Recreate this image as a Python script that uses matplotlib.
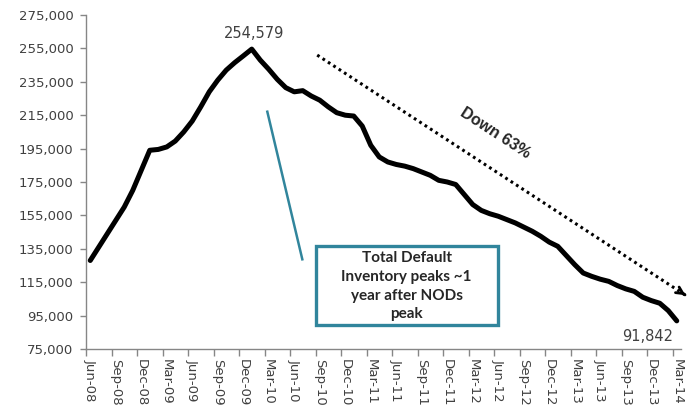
import matplotlib
matplotlib.use("Agg")
import matplotlib.pyplot as plt
from matplotlib.patches import Rectangle
from matplotlib.ticker import FuncFormatter, FixedLocator
import numpy as np

# ---- data ----
months = ["Jun-08", "Jul-08", "Aug-08", "Sep-08", "Oct-08", "Nov-08", "Dec-08",
          "Jan-09", "Feb-09", "Mar-09", "Apr-09", "May-09", "Jun-09", "Jul-09",
          "Aug-09", "Sep-09", "Oct-09", "Nov-09", "Dec-09", "Jan-10", "Feb-10",
          "Mar-10", "Apr-10", "May-10", "Jun-10", "Jul-10", "Aug-10", "Sep-10",
          "Oct-10", "Nov-10", "Dec-10", "Jan-11", "Feb-11", "Mar-11", "Apr-11",
          "May-11", "Jun-11", "Jul-11", "Aug-11", "Sep-11", "Oct-11", "Nov-11",
          "Dec-11", "Jan-12", "Feb-12", "Mar-12", "Apr-12", "May-12", "Jun-12",
          "Jul-12", "Aug-12", "Sep-12", "Oct-12", "Nov-12", "Dec-12", "Jan-13",
          "Feb-13", "Mar-13", "Apr-13", "May-13", "Jun-13", "Jul-13", "Aug-13",
          "Sep-13", "Oct-13", "Nov-13", "Dec-13", "Jan-14", "Feb-14", "Mar-14"]
inventory = [128000, 136000, 144000, 152000, 160000, 170000, 182000,
             194000, 194500, 196000, 199500, 205000, 211500, 220000,
             229000, 236000, 242000, 246500, 250500, 254579, 248000,
             242500, 236500, 231500, 229000, 229700, 226500, 224000,
             220000, 216500, 215000, 214500, 208500, 197000, 190000,
             187000, 185500, 184500, 183000, 181000, 179000, 176000,
             175000, 173500, 167500, 161500, 158000, 156000, 154500,
             152500, 150500, 148000, 145500, 142500, 139000, 136500,
             131000, 125500, 120500, 118500, 116800, 115500, 113000,
             111000, 109500, 106000, 104000, 102400, 98000, 91842]
y_ticks = [75000, 95000, 115000, 135000, 155000, 175000, 195000, 215000,
           235000, 255000, 275000]
peak_label = "254,579"
last_label = "91,842"
box_text = "Total Default\nInventory peaks ~1\nyear after NODs\npeak"
down_text = "Down 63%"

teal = "#31859C"
gray = "#868686"
txt = "#404040"

fig = plt.figure(figsize=(6.96, 4.08), dpi=100)
ax = fig.add_axes([86/696, 1 - 349/408, 595/696, 334/408])

x = np.arange(len(inventory))
ax.plot(x, inventory, color="black", lw=3.6, solid_joinstyle="round",
        solid_capstyle="round", clip_on=False, zorder=3)

ax.set_xlim(-0.5, len(inventory) - 0.5)
ax.set_ylim(y_ticks[0], y_ticks[-1])

# y axis
ax.set_yticks(y_ticks)
ax.yaxis.set_major_formatter(FuncFormatter(lambda v, p: f"{int(v):,}"))
ax.tick_params(axis="y", length=4, width=1, color=gray, labelsize=9.5,
               labelcolor=txt, pad=5)

# x axis: ticks between categories, labels on categories
lab_pos = x[::3]
ax.xaxis.set_major_locator(FixedLocator(lab_pos - 0.5))
ax.xaxis.set_major_formatter(FuncFormatter(lambda v, p: ""))
ax.xaxis.set_minor_locator(FixedLocator(lab_pos))
ax.set_xticklabels([months[i] for i in lab_pos], minor=True)
ax.tick_params(axis="x", which="major", length=5, width=1, color=gray)
ax.tick_params(axis="x", which="minor", length=0, labelsize=9.5,
               labelcolor=txt, pad=7, labelrotation=-90)
for t in ax.get_xticklabels(minor=True):
    t.set_va("top")
    t.set_ha("center")

for s in ["top", "right"]:
    ax.spines[s].set_visible(False)
for s in ["left", "bottom"]:
    ax.spines[s].set_color(gray)
    ax.spines[s].set_linewidth(1)

# data labels
ipk = int(np.argmax(inventory))
ax.annotate(peak_label, xy=(ipk, inventory[ipk]), xytext=(2, 11),
            textcoords="offset points", ha="center", va="center",
            fontsize=10.5, color=txt, annotation_clip=False)
ax.annotate(last_label, xy=(x[-1], inventory[-1]), xytext=(-21, -11),
            textcoords="offset points", ha="center", va="center",
            fontsize=10.5, color=txt, annotation_clip=False)

# dotted trend arrow
xs, ys = 26.7, 251000
xe, ye = 70.3, 106300
ax.plot([xs, xe], [ys, ye], color="black", lw=2.2,
        linestyle=(0, (0.9, 1.2)), clip_on=False, zorder=4)
ax.annotate("", xy=(xe, ye), xytext=(xe - 0.6, ye + 2000),
            arrowprops=dict(arrowstyle="->", color="black", lw=2,
                            mutation_scale=12),
            annotation_clip=False)
ax.text(0.687, 0.647, down_text, transform=ax.transAxes, rotation=-33,
        rotation_mode="anchor", ha="center", va="center", fontsize=11.5,
        fontweight="bold", color="#262626", family="Liberation Sans")

# teal callout
ax.plot([20.83, 24.95], [217100, 128700], color=teal, lw=1.8, zorder=2)
ax.add_patch(Rectangle((0.386, 0.072), 0.692 - 0.386, 0.309 - 0.072,
                       transform=ax.transAxes, fill=False, edgecolor=teal,
                       lw=2.4, zorder=5, clip_on=False))
ax.text(0.539, 0.188, box_text, transform=ax.transAxes, ha="center",
        va="center", fontsize=11, fontweight="bold", color="#262626",
        family="Lato", linespacing=1.42)

fig.savefig("out.png", dpi=100)
